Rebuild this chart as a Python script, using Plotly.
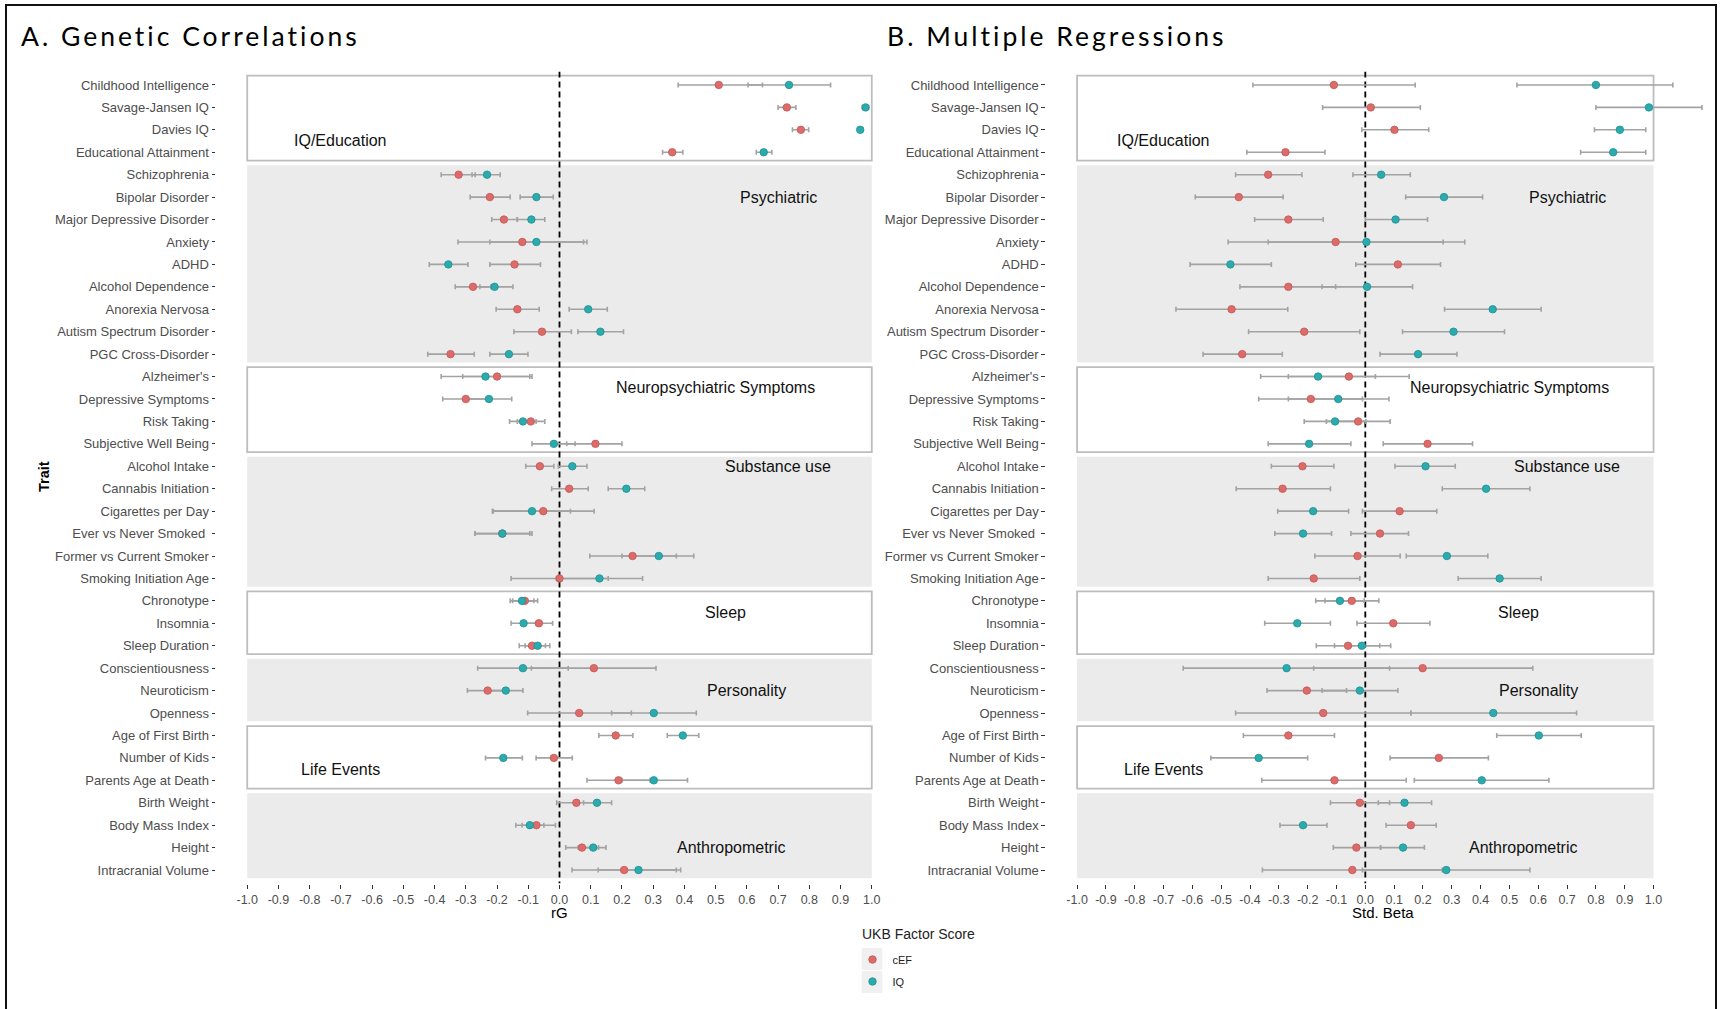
import plotly.graph_objects as go

# ---------------------------------------------------------------- data
traits = [
    "Childhood Intelligence", "Savage-Jansen IQ", "Davies IQ", "Educational Attainment",
    "Schizophrenia", "Bipolar Disorder", "Major Depressive Disorder", "Anxiety", "ADHD",
    "Alcohol Dependence", "Anorexia Nervosa", "Autism Spectrum Disorder", "PGC Cross-Disorder",
    "Alzheimer's", "Depressive Symptoms", "Risk Taking", "Subjective Well Being",
    "Alcohol Intake", "Cannabis Initiation", "Cigarettes per Day", "Ever vs Never Smoked\u00a0",
    "Former vs Current Smoker", "Smoking Initiation Age",
    "Chronotype", "Insomnia", "Sleep Duration",
    "Conscientiousness", "Neuroticism", "Openness",
    "Age of First Birth", "Number of Kids", "Parents Age at Death",
    "Birth Weight", "Body Mass Index", "Height", "Intracranial Volume",
]

# Genetic correlations (rG) with the UKB factor scores
rg_cef = [0.51, 0.728, 0.773, 0.361, -0.323, -0.223, -0.178, -0.119, -0.144, -0.277, -0.135, -0.056,
          -0.349, -0.20, -0.30, -0.092, 0.115, -0.063, 0.031, -0.052, -0.183, 0.234, 0.0, -0.111,
          -0.066, -0.088, 0.11, -0.23, 0.063, 0.18, -0.018, 0.189, 0.054, -0.074, 0.072, 0.207]
rg_cef_lo = [0.38, 0.70, 0.746, 0.33, -0.379, -0.286, -0.217, -0.325, -0.223, -0.334, -0.203, -0.146,
             -0.422, -0.31, -0.374, -0.135, 0.023, -0.108, -0.025, -0.215, -0.271, 0.097, -0.155, -0.15,
             -0.108, -0.129, -0.09, -0.295, -0.102, 0.126, -0.075, 0.088, -0.009, -0.12, 0.02, 0.04]
rg_cef_hi = [0.65, 0.757, 0.798, 0.395, -0.27, -0.158, -0.135, 0.088, -0.061, -0.22, -0.065, 0.038,
             -0.273, -0.088, -0.226, -0.047, 0.20, -0.018, 0.092, 0.111, -0.088, 0.374, 0.156, -0.07,
             -0.022, -0.045, 0.309, -0.165, 0.23, 0.235, 0.041, 0.29, 0.117, -0.013, 0.125, 0.374]

rg_iq = [0.735, 0.98, 0.963, 0.654, -0.232, -0.074, -0.09, -0.074, -0.356, -0.208, 0.092, 0.131,
         -0.162, -0.237, -0.226, -0.117, -0.018, 0.041, 0.214, -0.088, -0.183, 0.318, 0.128, -0.12,
         -0.115, -0.07, -0.117, -0.172, 0.302, 0.395, -0.18, 0.302, 0.12, -0.095, 0.108, 0.253]
rg_iq_lo = [0.604, 0.97, 0.955, 0.63, -0.28, -0.126, -0.135, -0.223, -0.417, -0.255, 0.031, 0.059,
            -0.223, -0.379, -0.30, -0.16, -0.088, -0.004, 0.156, -0.212, -0.271, 0.2, -0.01, -0.158,
            -0.155, -0.11, -0.262, -0.228, 0.167, 0.345, -0.237, 0.2, 0.077, -0.14, 0.06, 0.124]
rg_iq_hi = [0.868, 0.99, 0.97, 0.68, -0.19, -0.02, -0.047, 0.077, -0.293, -0.149, 0.153, 0.205,
            -0.101, -0.095, -0.153, -0.075, 0.05, 0.088, 0.273, 0.035, -0.095, 0.43, 0.266, -0.082,
            -0.075, -0.031, 0.028, -0.117, 0.438, 0.446, -0.119, 0.41, 0.167, -0.05, 0.149, 0.388]

# Multiple regressions (standardised betas)
beta_cef = [-0.109, 0.019, 0.101, -0.277, -0.337, -0.439, -0.267, -0.103, 0.113, -0.267, -0.464, -0.212,
            -0.427, -0.057, -0.189, -0.025, 0.216, -0.218, -0.287, 0.119, 0.051, -0.027, -0.179, -0.047,
            0.097, -0.06, 0.199, -0.203, -0.146, -0.267, 0.255, -0.107, -0.019, 0.158, -0.031, -0.045]
beta_cef_lo = [-0.39, -0.148, -0.012, -0.411, -0.45, -0.59, -0.384, -0.476, -0.033, -0.435, -0.657, -0.405,
               -0.563, -0.267, -0.37, -0.135, 0.062, -0.326, -0.448, -0.01, -0.05, -0.175, -0.337, -0.14,
               -0.029, -0.17, -0.179, -0.341, -0.45, -0.423, 0.086, -0.359, -0.121, 0.072, -0.111, -0.357]
beta_cef_hi = [0.173, 0.191, 0.22, -0.14, -0.22, -0.285, -0.146, 0.27, 0.261, -0.103, -0.269, -0.019,
               -0.288, 0.152, -0.01, 0.086, 0.372, -0.109, -0.121, 0.248, 0.15, 0.121, -0.019, 0.047,
               0.224, 0.05, 0.581, -0.065, 0.158, -0.107, 0.427, 0.142, 0.084, 0.246, 0.053, 0.267]

beta_iq = [0.80, 0.984, 0.883, 0.86, 0.055, 0.273, 0.105, 0.004, -0.468, 0.006, 0.442, 0.306,
           0.183, -0.164, -0.094, -0.105, -0.195, 0.209, 0.419, -0.181, -0.216, 0.283, 0.466, -0.088,
           -0.236, -0.012, -0.273, -0.019, 0.444, 0.602, -0.37, 0.404, 0.136, -0.216, 0.131, 0.281]
beta_iq_lo = [0.526, 0.80, 0.795, 0.747, -0.043, 0.14, 0.0, -0.337, -0.608, -0.15, 0.275, 0.129,
              0.051, -0.363, -0.267, -0.212, -0.337, 0.103, 0.267, -0.304, -0.314, 0.142, 0.322, -0.172,
              -0.349, -0.107, -0.632, -0.15, 0.158, 0.456, -0.536, 0.17, 0.045, -0.296, 0.053, -0.01]
beta_iq_hi = [1.067, 1.168, 0.973, 0.973, 0.156, 0.407, 0.216, 0.345, -0.326, 0.164, 0.61, 0.483,
              0.318, 0.035, 0.082, 0.002, -0.05, 0.312, 0.571, -0.058, -0.117, 0.425, 0.61, -0.004,
              -0.121, 0.088, 0.084, 0.113, 0.733, 0.749, -0.2, 0.637, 0.23, -0.133, 0.205, 0.571]

# trait groups: name, first trait, last trait
group_names = ["IQ/Education", "Psychiatric", "Neuropsychiatric Symptoms", "Substance use",
               "Sleep", "Personality", "Life Events", "Anthropometric"]
group_first = ["Childhood Intelligence", "Schizophrenia", "Alzheimer's", "Alcohol Intake",
               "Chronotype", "Conscientiousness", "Age of First Birth", "Birth Weight"]
group_last = ["Educational Attainment", "PGC Cross-Disorder", "Subjective Well Being",
              "Smoking Initiation Age", "Sleep Duration", "Openness", "Parents Age at Death",
              "Intracranial Volume"]

tick_values = [round(-1.0 + 0.1 * i, 1) for i in range(21)]
tick_labels = [f"{v:.1f}" for v in tick_values]

# ---------------------------------------------------------------- styling / layout
W, H = 1721, 1009
FONT = "Liberation Sans, Arial, sans-serif"
TITLE_FONT = "Lato, sans-serif"
COL_CEF = "#DC6B69"
COL_IQ = "#2BABAD"
EDGE_CEF = "#C25857"
EDGE_IQ = "#1F9092"
ERR_COL = "#A3A3A3"

# where each group's caption sits (data units: x value, row position)
group_label_pos = [(-0.7, 3.47), (0.7, 6.0), (0.5, 14.48), (0.7, 18.0),
                   (0.53, 24.5), (0.6, 28.0), (-0.7, 31.5), (0.55, 35.0)]
group_shaded = [False, True, False, True, False, True, False, True]

rows = list(range(1, len(traits) + 1))
row_of = {t: i + 1 for i, t in enumerate(traits)}

plot_top, plot_bottom = 71.5, 883.5          # pixel extent of the panels
ydom = [1 - plot_bottom / H, 1 - plot_top / H]
xdomA = [216 / W, 903 / W]
xdomB = [1045.8 / W, 1.0]

fig = go.Figure()


def add_panel(xa, ya, est_c, lo_c, hi_c, est_i, lo_i, hi_i, legend):
    series = [("cEF", est_c, lo_c, hi_c, COL_CEF, EDGE_CEF),
              ("IQ", est_i, lo_i, hi_i, COL_IQ, EDGE_IQ)]
    # error bars first so every point sits on top of them
    for name, est, lo, hi, col, edge in series:
        fig.add_trace(go.Scatter(
            x=est, y=rows, xaxis=xa, yaxis=ya, mode="markers",
            marker=dict(size=1, color="rgba(0,0,0,0)"),
            error_x=dict(type="data", symmetric=False,
                         array=[h - e for h, e in zip(hi, est)],
                         arrayminus=[e - l for e, l in zip(est, lo)],
                         color=ERR_COL, thickness=1.6, width=2.5),
            showlegend=False, hoverinfo="skip"))
    for name, est, lo, hi, col, edge in series:
        fig.add_trace(go.Scatter(
            x=est, y=rows, xaxis=xa, yaxis=ya, mode="markers", name=name,
            legendgroup=name, showlegend=legend,
            marker=dict(size=7.5, color=col, line=dict(color=edge, width=0.8))))


add_panel("x", "y", rg_cef, rg_cef_lo, rg_cef_hi, rg_iq, rg_iq_lo, rg_iq_hi, True)
add_panel("x2", "y2", beta_cef, beta_cef_lo, beta_cef_hi, beta_iq, beta_iq_lo, beta_iq_hi, False)

shapes = []
annotations = []
for xref, yref in (("x", "y"), ("x2", "y2")):
    for g, name in enumerate(group_names):
        y0 = row_of[group_first[g]] - 0.42
        y1 = row_of[group_last[g]] + 0.37
        if group_shaded[g]:
            shapes.append(dict(type="rect", xref=xref, yref=yref, x0=-1, x1=1, y0=y0, y1=y1,
                               fillcolor="#EBEBEB", line=dict(width=0), layer="below"))
        else:
            shapes.append(dict(type="rect", xref=xref, yref=yref, x0=-1, x1=1, y0=y0, y1=y1,
                               fillcolor="white", line=dict(color="#BDBDBD", width=1.8),
                               layer="below"))
        lx, ly = group_label_pos[g]
        annotations.append(dict(text=name, xref=xref, yref=yref, x=lx, y=ly, showarrow=False,
                                xanchor="center", yanchor="middle",
                                font=dict(family=FONT, size=16, color="#111111")))
    # reference line at zero
    shapes.append(dict(type="line", xref=xref, yref=yref, x0=0, x1=0, y0=0.4, y1=36.6,
                       line=dict(color="black", width=1.8, dash="6px,4px"), layer="below"))

# grey key backgrounds behind the legend symbols
for k in range(2):
    top = 948 + 23 * k
    shapes.append(dict(type="rect", xref="paper", yref="paper",
                       x0=861.7 / W, x1=882.3 / W, y0=1 - (top + 22) / H, y1=1 - top / H,
                       fillcolor="#F0F0F0", line=dict(width=0), layer="below"))

# outer frame
shapes.append(dict(type="rect", xref="paper", yref="paper", x0=6 / W, x1=1716 / W,
                   y0=-0.01, y1=1 - 5 / H, line=dict(color="#111111", width=2),
                   fillcolor="rgba(0,0,0,0)", layer="above"))

# panel titles
spaced = '<span style="letter-spacing:3px">{}</span>'
annotations.append(dict(text=spaced.format("A. Genetic Correlations"), xref="paper", yref="paper",
                        x=19 / W, y=1 - 36 / H, xanchor="left", yanchor="middle", showarrow=False,
                        font=dict(family=TITLE_FONT, size=26.5, color="black")))
annotations.append(dict(text=spaced.format("B. Multiple Regressions"), xref="paper", yref="paper",
                        x=885 / W, y=1 - 36 / H, xanchor="left", yanchor="middle", showarrow=False,
                        font=dict(family=TITLE_FONT, size=26.5, color="black")))
# axis titles
annotations.append(dict(text="rG", xref="x domain", yref="paper", x=0.5, y=1 - 912 / H,
                        xanchor="center", yanchor="middle", showarrow=False,
                        font=dict(family=FONT, size=15, color="black")))
annotations.append(dict(text="Std. Beta", xref="x2 domain", yref="paper", x=0.5, y=1 - 912 / H,
                        xanchor="center", yanchor="middle", showarrow=False,
                        font=dict(family=FONT, size=15, color="black")))
annotations.append(dict(text="<b>Trait</b>", xref="paper", yref="paper", x=44 / W, y=1 - 477 / H,
                        xanchor="center", yanchor="middle", textangle=-90, showarrow=False,
                        font=dict(family=FONT, size=14.5, color="black")))
# legend heading
annotations.append(dict(text="UKB Factor Score", xref="paper", yref="paper", x=859.5 / W,
                        y=1 - 934 / H, xanchor="left", yanchor="middle", showarrow=False,
                        font=dict(family=FONT, size=14, color="#222222")))

xaxis_common = dict(tickmode="array", tickvals=tick_values, ticktext=tick_labels,
                    ticks="outside", ticklen=4, tickwidth=1.2, tickcolor="#333333",
                    showgrid=False, zeroline=False, showline=False, automargin=False,
                    tickfont=dict(family=FONT, size=12.5, color="#4D4D4D"))
yaxis_common = dict(tickmode="array", tickvals=rows, ticktext=traits, range=[36.6, 0.4],
                    domain=ydom, ticks="outside", ticklen=3.5, tickwidth=1.2, tickcolor="#333333",
                    showgrid=False, zeroline=False, showline=False, automargin=False,
                    tickfont=dict(family=FONT, size=13, color="#4D4D4D"))

fig.update_layout(
    width=W, height=H, template="none",
    paper_bgcolor="white", plot_bgcolor="rgba(0,0,0,0)",
    margin=dict(l=0, r=0, t=0, b=0),
    xaxis=dict(domain=xdomA, range=[-1.1, 1.1], anchor="y", **xaxis_common),
    yaxis=dict(anchor="x", **yaxis_common),
    xaxis2=dict(domain=xdomB, range=[-1.1085, 1.234], anchor="y2", **xaxis_common),
    yaxis2=dict(anchor="x2", **yaxis_common),
    shapes=shapes, annotations=annotations,
    showlegend=True,
    legend=dict(x=852.5 / W, y=1 - 945 / H, xanchor="left", yanchor="top",
                bgcolor="rgba(0,0,0,0)", borderwidth=0, tracegroupgap=3,
                font=dict(family=FONT, size=11, color="#222222")),
)

fig.write_html("out.html", post_script="document.body.style.margin='0';")
